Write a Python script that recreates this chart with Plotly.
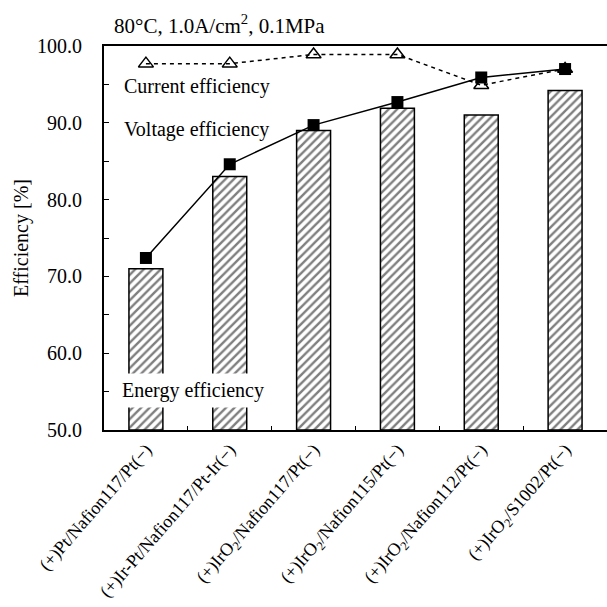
import plotly.graph_objects as go

categories = ["(+)Pt/Nafion117/Pt(−)", "(+)Ir-Pt/Nafion117/Pt-Ir(−)",
              "(+)IrO<sub>2</sub>/Nafion117/Pt(−)", "(+)IrO<sub>2</sub>/Nafion115/Pt(−)",
              "(+)IrO<sub>2</sub>/Nafion112/Pt(−)", "(+)IrO<sub>2</sub>/S1002/Pt(−)"]
energy_eff = [71.0, 83.0, 89.0, 91.9, 91.0, 94.2]
voltage_eff = [72.4, 84.6, 89.7, 92.7, 95.9, 97.0]
current_eff = [97.7, 97.7, 98.9, 98.9, 94.9, 97.0]
y_ticks = [50, 60, 70, 80, 90, 100]
y_minor_ticks = [55, 65, 75, 85, 95]

xs = list(range(len(categories)))
font = "Liberation Serif, Times New Roman, serif"

fig = go.Figure()
fig.add_trace(go.Bar(
    x=xs, y=[v - 50 for v in energy_eff], base=50, width=0.405,
    marker=dict(color="white", line=dict(color="black", width=1.5),
                pattern=dict(shape="/", fgcolor="black", bgcolor="white", size=6, solidity=0.4)),
    showlegend=False))
fig.add_trace(go.Scatter(
    x=xs, y=current_eff, mode="lines+markers",
    line=dict(color="black", width=1.5, dash="4px,4px"),
    marker=dict(symbol="triangle-up-open", size=13, color="black", line=dict(width=1.5)),
    showlegend=False))
fig.add_trace(go.Scatter(
    x=xs, y=voltage_eff, mode="lines+markers",
    line=dict(color="black", width=1.5),
    marker=dict(symbol="square", size=12, color="black"),
    showlegend=False))

fig.update_layout(
    width=607, height=607, plot_bgcolor="white", paper_bgcolor="white",
    margin=dict(l=104, r=0, t=46, b=177),
    font=dict(family=font, color="black", size=20),
    xaxis=dict(range=[-0.5, 5.5], tickvals=xs, ticktext=categories, tickangle=-49,
               tickfont=dict(size=18), showgrid=False, zeroline=False,
               showline=True, linecolor="black", linewidth=2, mirror=True, ticks="",
               minor=dict(tickvals=[0.5, 1.5, 2.5, 3.5, 4.5], ticks="inside", ticklen=4,
                          tickcolor="black", showgrid=False)),
    yaxis=dict(range=[50, 100], tickvals=y_ticks,
               ticktext=[f"{v:.1f}" for v in y_ticks],
               ticks="inside", ticklen=5, tickcolor="black", tickfont=dict(size=20),
               ticklabelstandoff=16,
               minor=dict(tickvals=y_minor_ticks, ticks="inside", ticklen=5,
                          tickcolor="black", showgrid=False),
               showgrid=False, zeroline=False, showline=True, linecolor="black", linewidth=2,
               title=dict(text="Efficiency [%]", font=dict(size=20), standoff=3)),
    annotations=[
        dict(text="80°C, 1.0A/cm<sup>2</sup>, 0.1MPa", xref="paper", yref="paper",
             x=0.016, y=1.055, xanchor="left", yanchor="middle", showarrow=False, font=dict(size=21)),
        dict(text="Current efficiency", xref="paper", yref="y", x=0.036, y=94.7,
             xanchor="left", yanchor="middle", showarrow=False, font=dict(size=20)),
        dict(text="Voltage efficiency", xref="paper", yref="y", x=0.036, y=89.1,
             xanchor="left", yanchor="middle", showarrow=False, font=dict(size=20)),
        dict(text="Energy efficiency", xref="paper", yref="y", x=0.024, y=55.2,
             xanchor="left", yanchor="middle", showarrow=False, font=dict(size=20),
             bgcolor="white", borderpad=5),
    ],
)

fig.write_html("out.html")
